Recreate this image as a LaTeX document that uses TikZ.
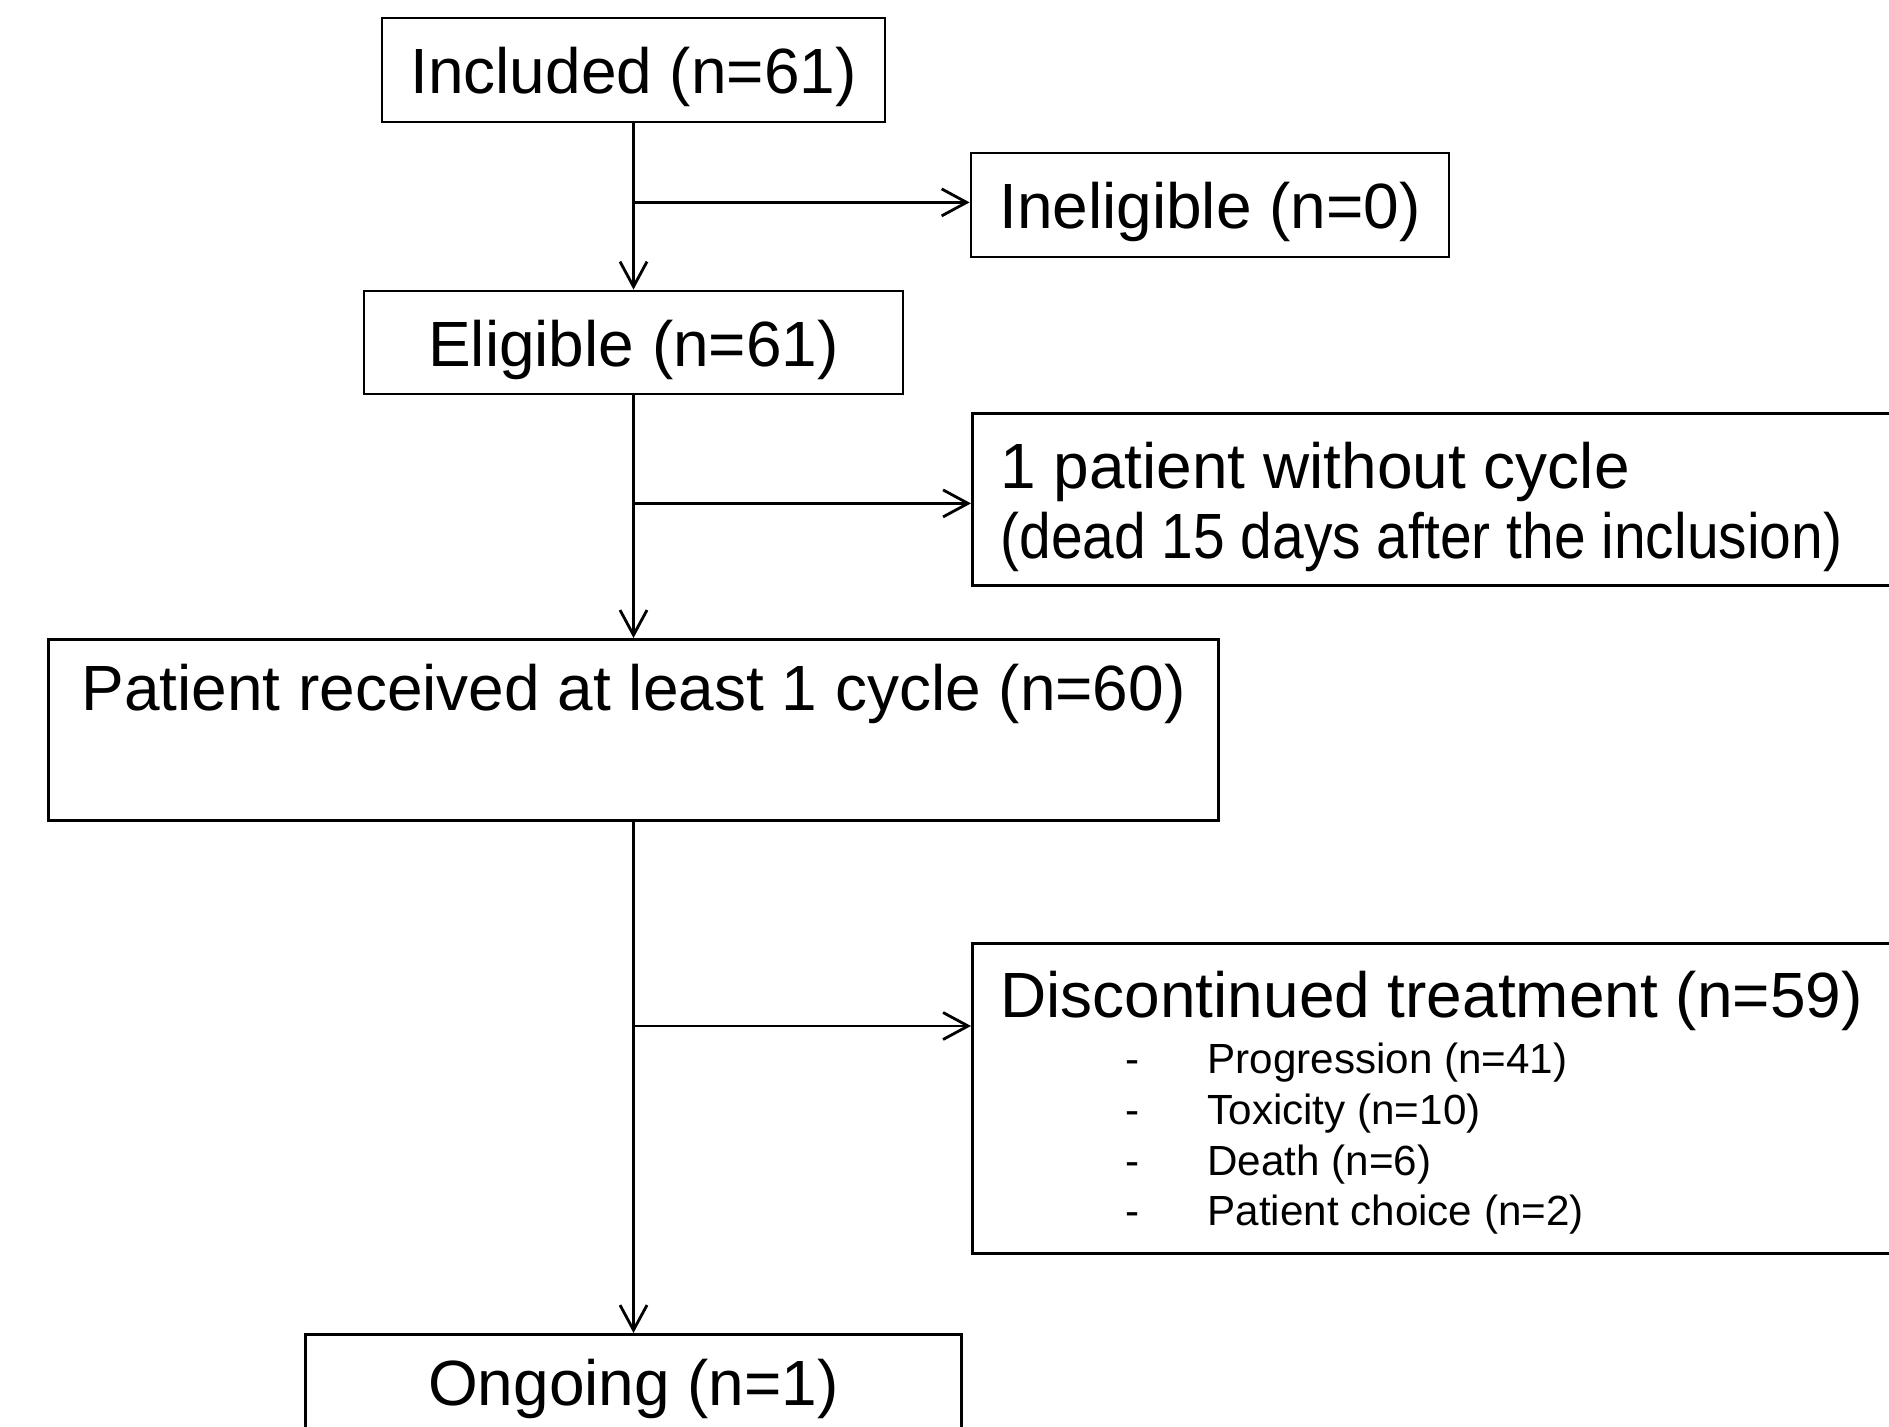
\documentclass[tikz,border=0pt]{standalone}
\usepackage{fontspec}
\setmainfont{Liberation Sans}
\newfontfamily\narrowsans[FakeStretch=0.89]{Liberation Sans}
\usetikzlibrary{
    arrows.meta,
    calc,
    positioning
}

\begin{document}
\begin{tikzpicture}[
        >={Straight Barb[length=2.5mm, width=2.7mm]},
        line width=0.8pt,
        box/.style={draw, rectangle, inner sep=0pt, text height=0.56cm, text depth=0.08cm,
            font=\fontsize{18.2}{19.9}\selectfont},
        topbox/.style={box, anchor=north, inner ysep=0.18cm, text height=0.53cm, text depth=0.92cm},
        sidebox/.style={box, anchor=north west, align=flush left, inner xsep=0.28cm, text width=10.6cm}
    ]
    \useasboundingbox (0, 0) rectangle (18.89, -14.27);
    \clip (0, 0) rectangle (18.89, -14.27);

    \node[box, minimum width=5.03cm, minimum height=1.04cm] (incl) at (6.335, -0.70) {Included (n=61)};
    \node[box, minimum width=4.78cm, minimum height=1.04cm] (inel) at (12.10, -2.05) {Ineligible (n=0)};
    \node[box, minimum width=5.39cm, minimum height=1.03cm] (elig) at (6.335, -3.425) {Eligible (n=61)};
    \node[sidebox, inner ysep=0.18cm, text height=0.57cm, text depth=0.79cm] (nocyc) at (9.71, -4.12)
        {1 patient without cycle\\{\narrowsans (dead 15 days after the inclusion)}};
    \node[topbox, minimum width=11.70cm, minimum height=1.81cm] (recv) at (6.335, -6.38)
        {Patient received at least 1 cycle (n=60)};
    \node[sidebox, inner ysep=0.18cm, text height=0.56cm, text depth=2.18cm] (disc) at (9.71, -9.42)
        {Discontinued treatment (n=59)\\[-3.8pt]
        \fontsize{12}{14.4}\selectfont
        \begin{tabular}[t]{@{\hspace{1.25cm}}l@{\hspace{0.68cm}}l}
            - & Progression (n=41)\\
            - & Toxicity (n=10)\\
            - & Death (n=6)\\
            - & Patient choice (n=2)
        \end{tabular}};
    \node[topbox, minimum width=6.56cm] (ongo) at (6.335, -13.33) {Ongoing (n=1)};

    \coordinate (b1) at ($(incl.south) + (0, -0.79)$);
    \coordinate (b2) at ($(elig.south) + (0, -1.08)$);
    \coordinate (b3) at ($(recv.south |- disc.north west) + (0, -0.84)$);

    \draw
    (incl) edge[->] (elig)
    (b1) edge[->] (b1 -| inel.west)
    (elig) edge[->] (recv)
    (b2) edge[->] (b2 -| nocyc.west)
    (recv) edge[->] (ongo)
    (b3) edge[->] (b3 -| disc.west);
\end{tikzpicture}
\end{document}
